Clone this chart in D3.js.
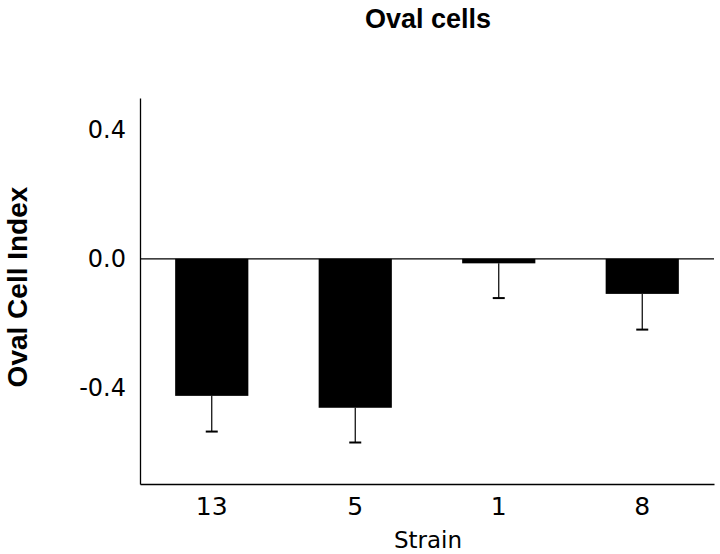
<!DOCTYPE html>
<html><head><meta charset="utf-8">
<script src="https://cdn.jsdelivr.net/npm/d3@7"></script>
<style>body{margin:0;background:#fff}</style>
</head><body>
<svg id="c" width="720" height="554"></svg>
<script>
const categories = ["13", "5", "1", "8"];
const values = [-0.426, -0.463, -0.014, -0.109];
const errors = [0.111, 0.108, 0.108, 0.111];
const yTicks = [0.4, 0.0, -0.4];
const yTickLabels = ["0.4", "0.0", "-0.4"];

const svg = d3.select("#c");
const mLeft = 140, mRight = 714, mTop = 98, mBottom = 484;
const x = d3.scaleBand().domain(categories).range([mLeft, mRight]).paddingInner(0.49).paddingOuter(0.245);
const y = d3.scaleLinear().domain([-0.7, 0.5]).range([mBottom, mTop]);
const boldFont = "'Liberation Sans', Arial, sans-serif";
const font = "'DejaVu Sans', sans-serif";

svg.append("text").attr("x", 428).attr("y", 28).attr("text-anchor", "middle")
  .attr("font-family", boldFont).attr("font-weight", "bold").attr("font-size", 27).text("Oval cells");

// bars
svg.selectAll("rect.bar").data(categories).enter().append("rect")
  .attr("x", d => x(d)).attr("width", x.bandwidth())
  .attr("y", (d, i) => y(Math.max(0, values[i])))
  .attr("height", (d, i) => Math.abs(y(values[i]) - y(0)))
  .attr("fill", "#000");

// error bars (downward)
const eg = svg.selectAll("g.err").data(categories).enter().append("g");
eg.append("line")
  .attr("x1", d => x(d) + x.bandwidth() / 2).attr("x2", d => x(d) + x.bandwidth() / 2)
  .attr("y1", (d, i) => y(values[i])).attr("y2", (d, i) => y(values[i] - errors[i]))
  .attr("stroke", "#000").attr("stroke-width", 1.2);
eg.append("line")
  .attr("x1", d => x(d) + x.bandwidth() / 2 - 6).attr("x2", d => x(d) + x.bandwidth() / 2 + 6)
  .attr("y1", (d, i) => y(values[i] - errors[i])).attr("y2", (d, i) => y(values[i] - errors[i]))
  .attr("stroke", "#000").attr("stroke-width", 2);

// zero line
svg.append("line").attr("x1", mLeft).attr("x2", mRight).attr("y1", y(0)).attr("y2", y(0))
  .attr("stroke", "#000").attr("stroke-width", 1.3);

// y axis
const yAxis = d3.axisLeft(y).tickValues(yTicks).tickSize(0).tickPadding(14)
  .tickFormat((d, i) => yTickLabels[i]);
const ga = svg.append("g").attr("transform", `translate(${mLeft},0)`).call(yAxis);
ga.select(".domain").attr("stroke", "#000").attr("stroke-width", 1.3);
ga.selectAll("text").attr("font-family", font).attr("font-size", 24).attr("fill", "#000");

// x axis
const xAxis = d3.axisBottom(x).tickSize(0).tickPadding(13);
const gx = svg.append("g").attr("transform", `translate(0,${mBottom})`).call(xAxis);
gx.select(".domain").attr("stroke", "#000").attr("stroke-width", 1.3);
gx.selectAll("text").attr("font-family", font).attr("font-size", 25).attr("fill", "#000");

svg.append("text").attr("x", 428).attr("y", 548).attr("text-anchor", "middle")
  .attr("font-family", font).attr("font-size", 23).text("Strain");

svg.append("text").attr("transform", "translate(27,287) rotate(-90)").attr("text-anchor", "middle")
  .attr("font-family", boldFont).attr("font-weight", "bold").attr("font-size", 28).text("Oval Cell Index");
</script>
</body></html>
